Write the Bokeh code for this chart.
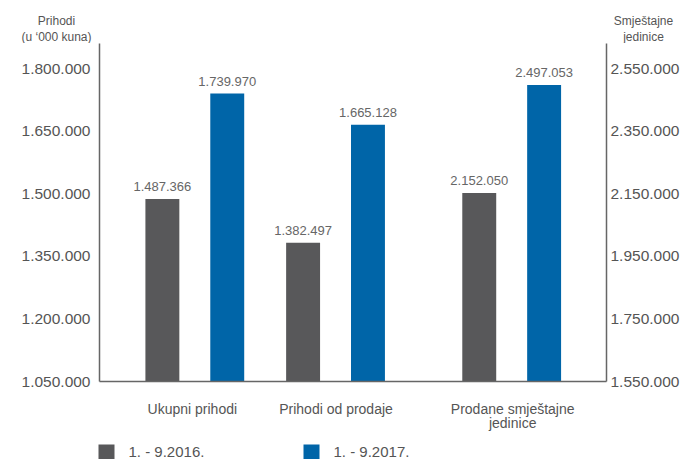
from bokeh.plotting import figure
from bokeh.layouts import column
from bokeh.models import Range1d, LinearAxis, FixedTicker, ColumnDataSource
from bokeh.embed import file_html
from bokeh.resources import INLINE
from bokeh.core.properties import value

# ---------------- data ----------------
categories = ["Ukupni prihodi", "Prihodi od prodaje", "Prodane smještajne\njedinice"]
series_names = ["1. - 9.2016.", "1. - 9.2017."]
values_2016 = [1487366, 1382497, 2152050]
values_2017 = [1739970, 1665128, 2497053]
labels_2016 = ["1.487.366", "1.382.497", "2.152.050"]
labels_2017 = ["1.739.970", "1.665.128", "2.497.053"]
uses_right_axis = [False, False, True]
left_ticks = [1050000, 1200000, 1350000, 1500000, 1650000, 1800000]
left_tick_labels = ["1.050.000", "1.200.000", "1.350.000", "1.500.000", "1.650.000", "1.800.000"]
right_ticks = [1550000, 1750000, 1950000, 2150000, 2350000, 2550000]
right_tick_labels = ["1.550.000", "1.750.000", "1.950.000", "2.150.000", "2.350.000", "2.550.000"]
left_title = ["Prihodi", "(u ‘000 kuna)"]
right_title = ["Smještajne", "jedinice"]

# ---------------- layout / style ----------------
FONT = value("Liberation Sans")
GRAY = "#58585a"
BLUE = "#0065a8"
TXT = "#555555"
series_colors = [GRAY, BLUE]
W = 682
HEAD_H, MAIN_H, FOOT_H = 43, 398, 18
FL, FW, FH = 99, 508, 338
LEFT_RANGE = (1050000, 1860000)
RIGHT_RANGE = (1550000, 2630000)
group_x = [95.5, 236.5, 413]
label_x = [93, 237, 414]
off = 32.5
bw = 34


def bare_fig(h, y0, y1):
    f = figure(width=W, height=h, output_backend="svg", toolbar_location=None, tools="",
               x_range=Range1d(0, W), y_range=Range1d(y1, y0),
               x_axis_type=None, y_axis_type=None, frame_align=False,
               min_border=0, min_border_left=0, min_border_right=0,
               min_border_top=0, min_border_bottom=0)
    f.outline_line_color = None
    f.xgrid.visible = False
    f.ygrid.visible = False
    return f


# ---------------- header (axis titles) ----------------
head = bare_fig(HEAD_H, 0, HEAD_H)
head.text(x=[56] * len(left_title), y=[20, 36][:len(left_title)], text=left_title,
          text_align="center", text_baseline="middle", text_font=FONT,
          text_font_size="12px", text_color=TXT)
head.text(x=[643] * len(right_title), y=[20, 36][:len(right_title)], text=right_title,
          text_align="center", text_baseline="middle", text_font=FONT,
          text_font_size="12px", text_color=TXT)

# ---------------- main chart ----------------
p = figure(width=W, height=MAIN_H, output_backend="svg", toolbar_location=None, tools="",
           x_range=Range1d(0, FW), y_range=Range1d(*LEFT_RANGE), frame_align=False,
           min_border_left=FL, min_border_right=W - FL - FW,
           min_border_top=0, min_border_bottom=MAIN_H - FH)
p.extra_y_ranges = {"right": Range1d(*RIGHT_RANGE)}
p.outline_line_color = None
p.xgrid.visible = False
p.ygrid.visible = False


def style_axis(ax, standoff, size):
    ax.axis_line_color = "#666666"
    ax.axis_line_width = 1.5
    ax.major_tick_line_color = None
    ax.minor_tick_line_color = None
    ax.major_tick_in = 0
    ax.major_tick_out = 0
    ax.minor_tick_in = 0
    ax.minor_tick_out = 0
    ax.major_label_standoff = standoff
    ax.major_label_text_font = "Liberation Sans"
    ax.major_label_text_color = TXT
    ax.major_label_text_font_size = size


la = p.yaxis[0]
la.ticker = FixedTicker(ticks=left_ticks)
la.major_label_overrides = {t: s for t, s in zip(left_ticks, left_tick_labels)}
style_axis(la, 9, "15.5px")

ra = LinearAxis(y_range_name="right", ticker=FixedTicker(ticks=right_ticks))
ra.major_label_overrides = {t: s for t, s in zip(right_ticks, right_tick_labels)}
style_axis(ra, 4, "15.5px")
p.add_layout(ra, "right")

ba = p.xaxis[0]
ba.ticker = FixedTicker(ticks=label_x)
ba.major_label_overrides = {t: s for t, s in zip(label_x, categories)}
style_axis(ba, 19, "14px")
ba.major_label_text_line_height = 0.9

for side in (False, True):
    idx = [i for i, r in enumerate(uses_right_axis) if r == side]
    if not idx:
        continue
    rng = "right" if side else "default"
    base = RIGHT_RANGE[0] if side else LEFT_RANGE[0]
    for vals, labs, dx, col in ((values_2016, labels_2016, -off, GRAY),
                                (values_2017, labels_2017, off, BLUE)):
        src = ColumnDataSource(dict(x=[group_x[i] + dx for i in idx],
                                    top=[vals[i] for i in idx],
                                    lab=[labs[i] for i in idx]))
        p.vbar(x="x", top="top", bottom=base, width=bw, source=src,
               fill_color=col, line_color=None, y_range_name=rng)
        p.text(x="x", y="top", text="lab", source=src, y_range_name=rng,
               y_offset=-12.5, text_align="center", text_baseline="middle",
               text_font=FONT, text_font_size="13px", text_color="#666666")

# ---------------- footer (legend) ----------------
y0 = HEAD_H + MAIN_H
foot = bare_fig(FOOT_H, y0, y0 + FOOT_H)
sq_x = [106, 311]
foot.rect(x=sq_x[:len(series_names)], y=[451.5] * len(series_names), width=16, height=15,
          fill_color=series_colors[:len(series_names)], line_color=None)
foot.text(x=[x + 22 for x in sq_x[:len(series_names)]], y=[451] * len(series_names),
          text=series_names, text_align="left", text_baseline="middle",
          text_font=FONT, text_font_size="15px", text_color=TXT)

layout = column(head, p, foot, spacing=0)
open("out.html", "w").write(file_html(layout, INLINE))
